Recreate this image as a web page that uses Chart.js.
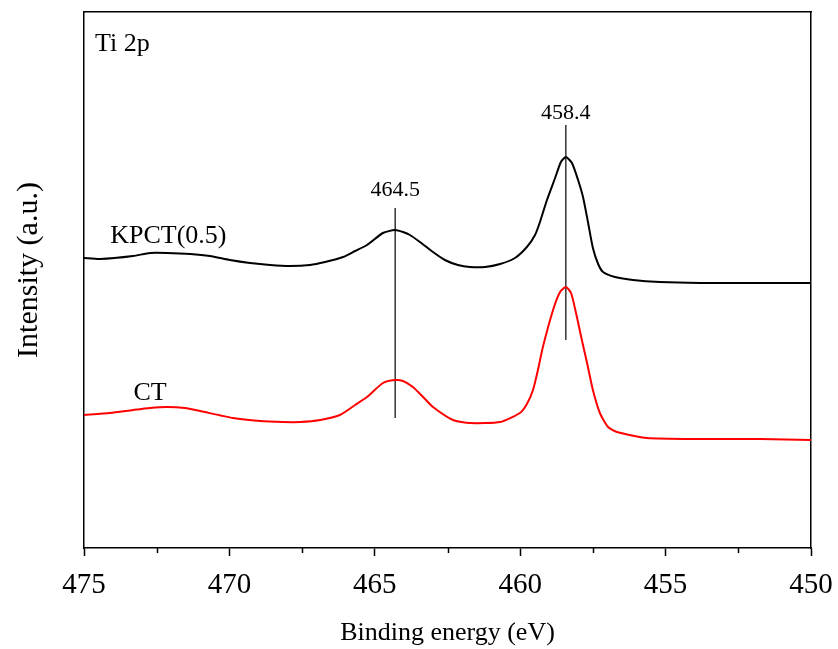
<!DOCTYPE html>
<html>
<head>
<meta charset="utf-8">
<script src="https://cdn.jsdelivr.net/npm/chart.js@4.4.1/dist/chart.umd.min.js"></script>
<style>
  html, body { margin: 0; padding: 0; background: #fff; }
  #wrap { width: 838px; height: 649px; }
</style>
</head>
<body>
<div id="wrap"><canvas id="xps"></canvas></div>
<script>
// Ti 2p XPS (intensidade em unidades arbitrarias)
const kpctEnergy = [475.0, 474.45, 473.31, 472.73, 472.15, 471.35, 470.67, 469.98, 469.29, 468.60, 467.92, 467.23, 466.71, 466.09, 465.68, 465.27, 464.72, 464.31, 464.03, 463.79, 463.45, 463.00, 462.59, 462.14, 461.73, 461.21, 460.69, 460.18, 459.77, 459.49, 459.32, 459.08, 458.80, 458.60, 458.43, 458.22, 458.01, 457.84, 457.67, 457.50, 457.32, 457.15, 456.74, 456.12, 455.19, 453.82, 452.10, 450.0];
const kpctIntensity = [290, 289, 292, 295, 295, 294, 292, 288, 285, 283, 282, 283, 286, 291, 297, 303, 315, 318, 316, 313, 306, 296, 288, 283, 281, 281, 284, 290, 301, 313, 326, 348, 370, 386, 391, 385, 368, 351, 326, 300, 284, 276, 271, 268, 266, 265, 265, 265];

const ctEnergy = [475.0, 474.11, 473.31, 472.73, 472.15, 471.53, 471.01, 469.88, 468.95, 468.16, 467.57, 466.88, 466.20, 465.68, 465.27, 464.72, 464.31, 464.03, 463.69, 463.34, 463.00, 462.31, 461.73, 460.69, 460.01, 459.77, 459.56, 459.39, 459.22, 458.87, 458.63, 458.43, 458.25, 458.05, 457.88, 457.70, 457.50, 457.26, 456.98, 456.67, 455.64, 453.82, 451.75, 450.0];
const ctIntensity = [133, 135, 138, 140, 141, 140, 137, 130, 127, 126, 126, 128, 133, 143, 151, 165, 168, 167, 161, 151, 141, 128, 125, 126, 135, 144, 158, 178, 201, 238, 256, 261, 255, 231, 208, 185, 158, 135, 121, 116, 110, 109, 109, 108];

// linhas verticais dos picos: [energia, y inicio, y fim]
const peakLines = [[464.3, 130, 340], [458.43, 208, 423]];
const peakLabels = ['464.5', '458.4'];
const peakLabelY = [358, 435];

const xTicks = [475, 470, 465, 460, 455, 450];
const xMinorTicks = [472.5, 467.5, 462.5, 457.5, 452.5];

const SERIF = '"Liberation Serif", "Times New Roman", serif';

function pts(xs, ys) {
    return xs.map((x, i) => ({ x: x, y: ys[i] }));
}

const datasets = [
    { label: 'KPCT(0.5)', data: pts(kpctEnergy, kpctIntensity), borderColor: '#000', borderWidth: 2 },
    { label: 'CT', data: pts(ctEnergy, ctIntensity), borderColor: '#ff0000', borderWidth: 2 }
];
peakLines.forEach(p => {
    datasets.push({ label: 'linha', data: [{ x: p[0], y: p[1] }, { x: p[0], y: p[2] }], borderColor: '#000', borderWidth: 1.2 });
});

// textos, titulo do eixo y e ticks menores
const extras = {
    id: 'extras',
    afterDraw(chart) {
        const ctx = chart.ctx;
        const xs = chart.scales.x, ys = chart.scales.y;
        ctx.save();
        ctx.fillStyle = '#000';
        ctx.textBaseline = 'middle';

        ctx.font = '22px ' + SERIF;
        ctx.textAlign = 'center';
        peakLines.forEach((p, i) => {
            ctx.fillText(peakLabels[i], xs.getPixelForValue(p[0]), ys.getPixelForValue(peakLabelY[i]));
        });

        ctx.font = '26px ' + SERIF;
        ctx.textAlign = 'left';
        ctx.fillText('Ti 2p', xs.getPixelForValue(474.62), ys.getPixelForValue(504));
        ctx.fillText('KPCT(0.5)', xs.getPixelForValue(474.1), ys.getPixelForValue(312));
        ctx.fillText('CT', xs.getPixelForValue(473.3), ys.getPixelForValue(155));

        // titulo do eixo y
        ctx.save();
        ctx.translate(29, ys.getPixelForValue(278));
        ctx.rotate(-Math.PI / 2);
        ctx.font = '30px ' + SERIF;
        ctx.textAlign = 'center';
        ctx.fillText('Intensity (a.u.)', 0, 0);
        ctx.restore();

        // ticks menores
        ctx.strokeStyle = '#000';
        ctx.lineWidth = 1.5;
        const b = chart.chartArea.bottom;
        xMinorTicks.forEach(v => {
            const px = Math.round(xs.getPixelForValue(v)) + 0.5;
            ctx.beginPath();
            ctx.moveTo(px, b);
            ctx.lineTo(px, b + 5);
            ctx.stroke();
        });
        ctx.restore();
    }
};

new Chart(document.getElementById('xps'), {
    type: 'scatter',
    data: { datasets: datasets },
    options: {
        responsive: true,
        maintainAspectRatio: false,
        animation: false,
        showLine: true,
        elements: { point: { radius: 0 }, line: { tension: 0.2 } },
        layout: { padding: { left: 84, right: 27, top: 12, bottom: 0 } },
        plugins: { legend: { display: false }, tooltip: { enabled: false } },
        scales: {
            x: {
                type: 'linear',
                reverse: true,
                min: 450,
                max: 475,
                afterBuildTicks: s => { s.ticks = xTicks.map(v => ({ value: v })); },
                afterFit: s => { s.paddingLeft = 0; s.paddingRight = 0; },
                ticks: { font: { family: SERIF, size: 29 }, color: '#000', padding: 12, maxRotation: 0 },
                grid: { drawOnChartArea: false, tickLength: 8, tickWidth: 1.5, tickColor: '#000' },
                border: { color: '#000', width: 1.5 },
                title: { display: true, text: 'Binding energy (eV)', font: { family: SERIF, size: 26 }, color: '#000', padding: { top: 3, bottom: 0 } }
            },
            y: {
                min: 0,
                max: 536,
                afterFit: s => { s.width = 0; },
                ticks: { display: false },
                grid: { display: false, drawTicks: false },
                border: { color: '#000', width: 1.5 }
            },
            xTop: {
                position: 'top',
                type: 'linear',
                min: 450,
                max: 475,
                afterFit: s => { s.paddingLeft = 0; s.paddingRight = 0; },
                ticks: { display: false },
                grid: { display: false, drawTicks: false },
                border: { color: '#000', width: 1.5 }
            },
            yRight: {
                position: 'right',
                min: 0,
                max: 536,
                afterFit: s => { s.width = 0; },
                ticks: { display: false },
                grid: { display: false, drawTicks: false },
                border: { color: '#000', width: 1.5 }
            }
        }
    },
    plugins: [extras]
});
</script>
</body>
</html>
